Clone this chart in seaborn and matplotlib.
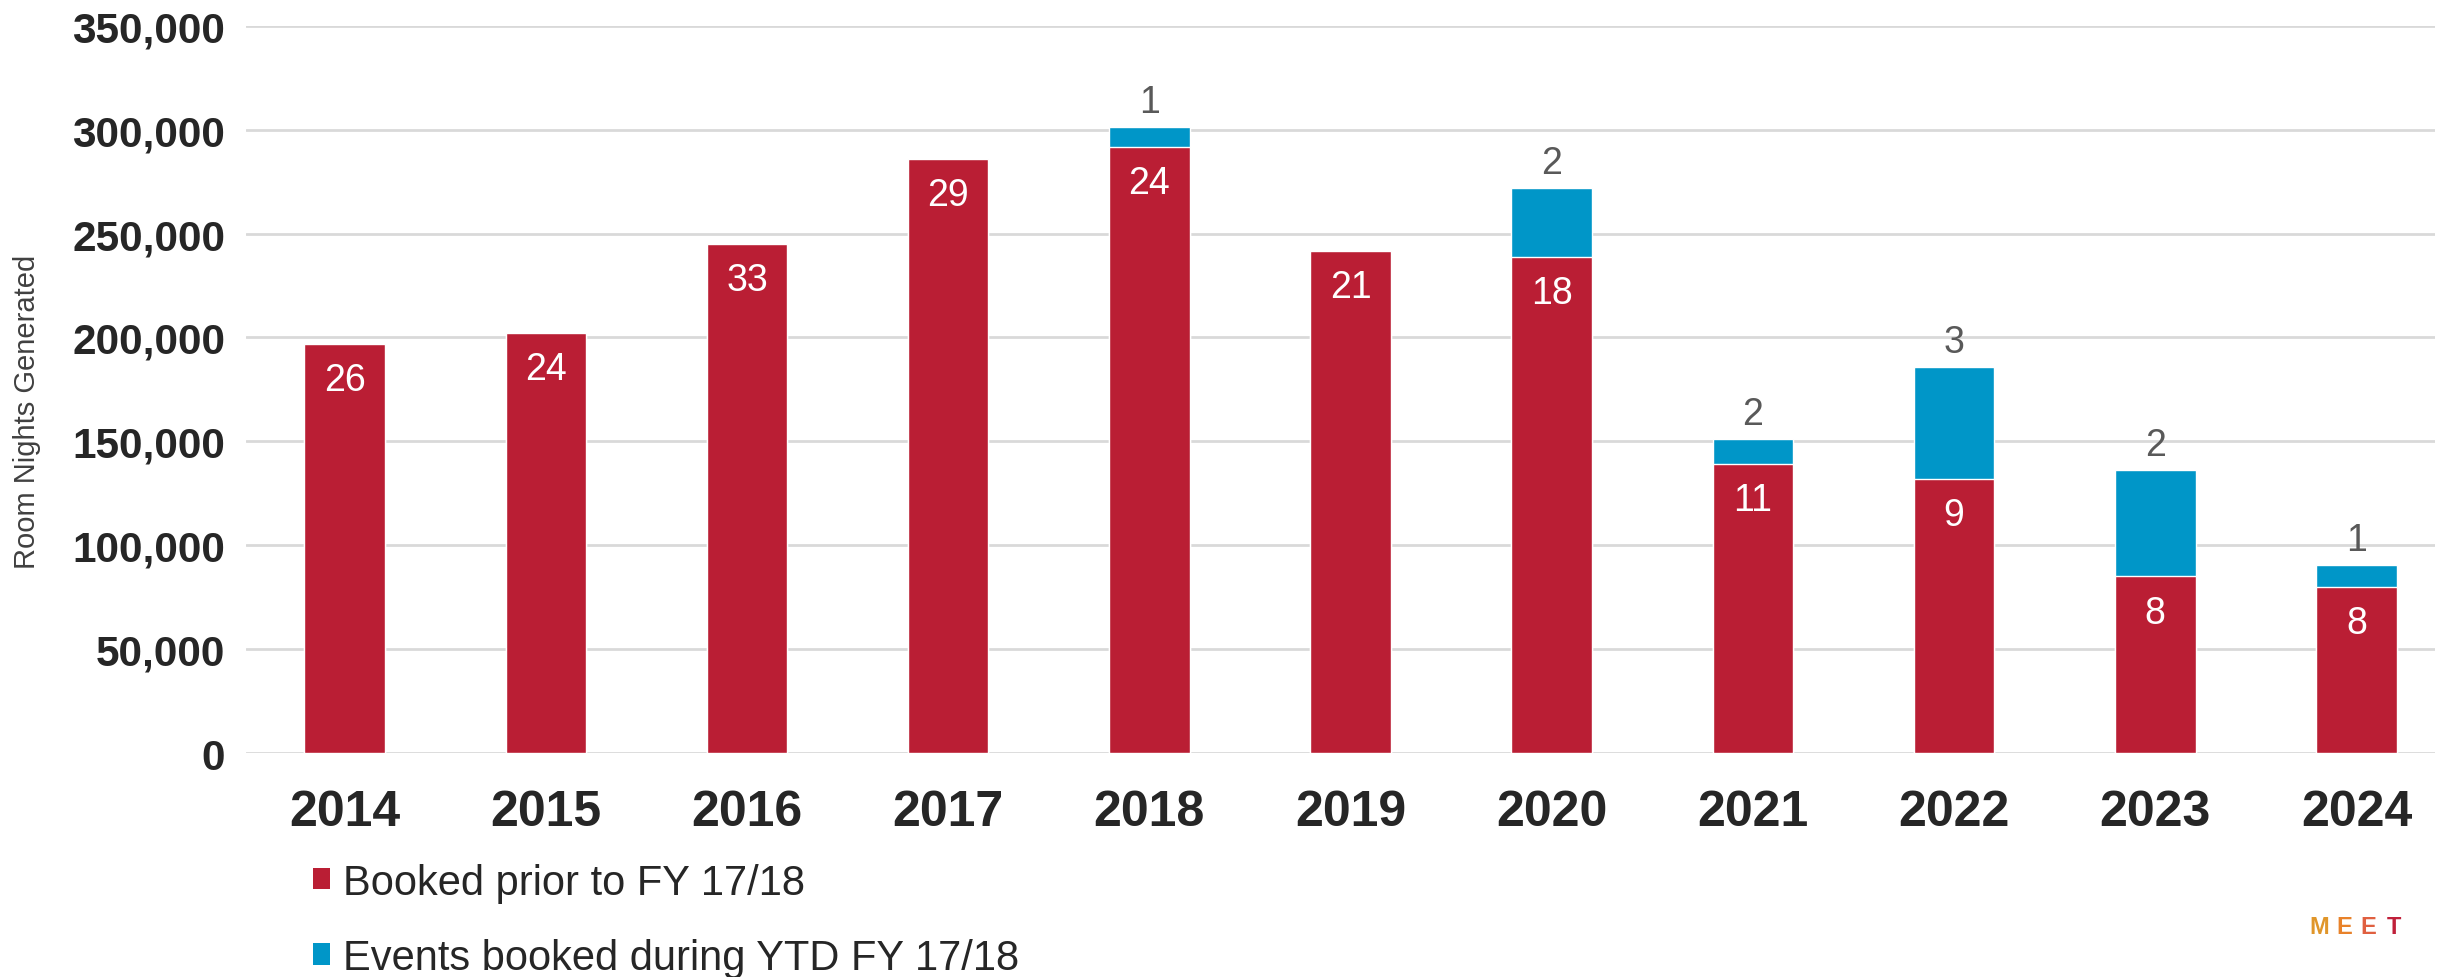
import pandas as pd
import seaborn as sns
import matplotlib.pyplot as plt
from matplotlib.patches import Patch

years = ['2014', '2015', '2016', '2017', '2018', '2019', '2020', '2021', '2022', '2023', '2024']
booked_prior = [197000, 202000, 245000, 286000, 291600, 241500, 238700, 139000, 131800, 85000, 80000]
booked_ytd = [0, 0, 0, 0, 9700, 0, 33000, 12000, 54200, 51100, 10400]
prior_counts = [26, 24, 33, 29, 24, 21, 18, 11, 9, 8, 8]
ytd_counts = [None, None, None, None, 1, None, 2, 2, 3, 2, 1]
y_ticks = [0, 50000, 100000, 150000, 200000, 250000, 300000, 350000]

RED = '#BA1E34'
BLUE = '#0096C8'

df = pd.DataFrame({'year': years, 'prior': booked_prior, 'ytd': booked_ytd})
df['total'] = df['prior'] + df['ytd']

sns.set_theme(style='white')
plt.rcParams['font.family'] = ['Liberation Sans', 'DejaVu Sans']
NARROW = ['Liberation Sans Narrow', 'Liberation Sans', 'DejaVu Sans']

fig = plt.figure(figsize=(24.63, 9.78), dpi=100)
ax = fig.add_axes([0.0999, 0.229, 0.8887, 0.7437])

# stacked: total first (blue), then prior on top (red)
sns.barplot(data=df, x='year', y='total', color=BLUE, width=0.40, saturation=1, ax=ax)
sns.barplot(data=df, x='year', y='prior', color=RED, width=0.40, saturation=1, ax=ax)

blue_bars = ax.containers[0]
red_bars = ax.containers[1]

for bar, n in zip(red_bars, prior_counts):
    x = bar.get_x() + bar.get_width() / 2
    ax.annotate(str(n), (x, bar.get_height()), xytext=(0, -26), textcoords='offset points',
                ha='center', va='center', color='white', fontsize=27)

for bar, n in zip(blue_bars, ytd_counts):
    if n is None:
        continue
    x = bar.get_x() + bar.get_width() / 2
    ax.annotate(str(n), (x, bar.get_height()), xytext=(0, 18), textcoords='offset points',
                ha='center', va='center', color='#595959', fontsize=27)

ax.set_xlim(-0.49, 10.39)
ax.set_ylim(0, 350000)
ax.set_yticks(y_ticks)
ax.set_yticklabels([f'{v:,}' for v in y_ticks], fontsize=30.5, fontweight='bold', color='#262626')
ax.set_xticks(range(len(years)))
ax.set_xticklabels(years, fontsize=36, fontweight='bold', color='#262626')
ax.tick_params(axis='x', length=0, pad=26)
ax.tick_params(axis='y', length=0, pad=15)
ax.set_xlabel('')
ax.set_ylabel('')
ax.yaxis.grid(True, color='#D9D9D9', linewidth=2)
ax.set_axisbelow(True)
for s in ax.spines.values():
    s.set_visible(False)

fig.text(0.011, 0.579, 'Room Nights Generated', rotation=90, ha='center', va='center',
         fontsize=21, color='#404040', family=NARROW)

handles = [Patch(facecolor=RED, edgecolor='none'), Patch(facecolor=BLUE, edgecolor='none')]
leg = fig.legend(handles, ['Booked prior to FY 17/18', 'Events booked during YTD FY 17/18'],
                 loc='upper left', bbox_to_anchor=(0.127, 0.117), frameon=False,
                 prop={'family': NARROW, 'size': 30}, handlelength=0.42, handleheight=0.42,
                 handletextpad=0.3, labelspacing=0.85, borderpad=0, borderaxespad=0)
for t in leg.get_texts():
    t.set_color('#262626')

# logo fragment, bottom right
for ch, col, xx in zip('MEET', ['#E0962A', '#E8822A', '#E06040', '#C0203A'],
                       [0.9415, 0.9516, 0.9617, 0.9718]):
    fig.text(xx, 0.052, ch, fontsize=17, fontweight='bold', color=col, ha='center', va='center')

fig.savefig('out.png', dpi=100)
